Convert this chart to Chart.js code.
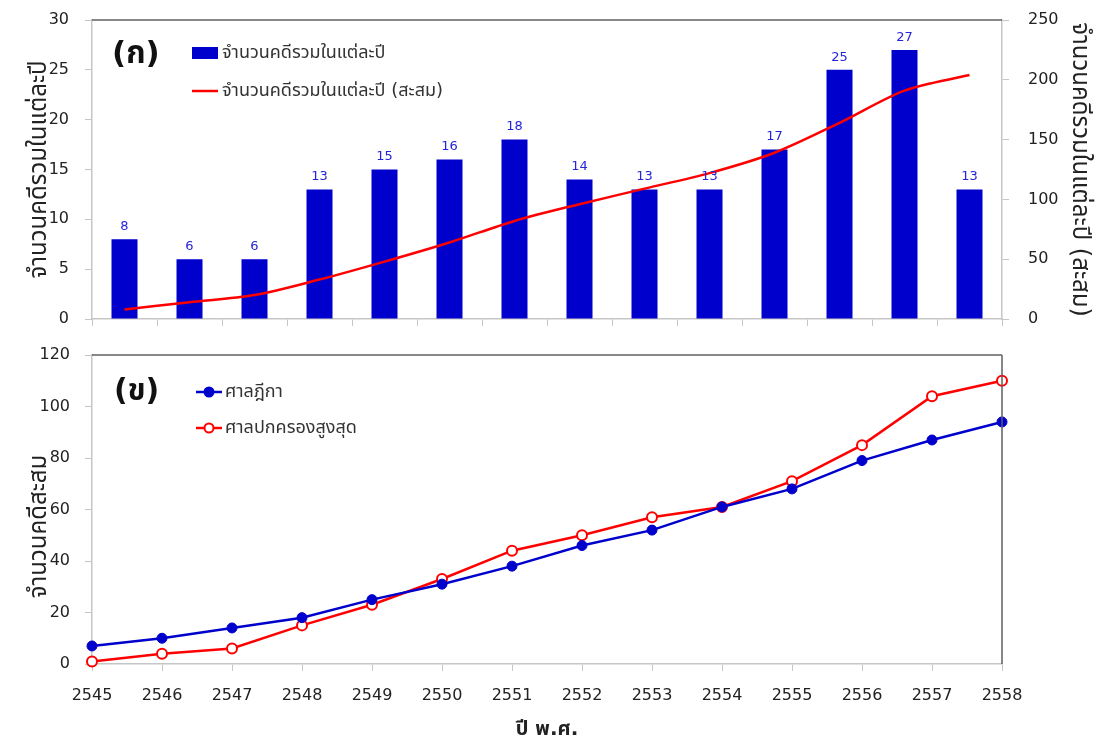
<!DOCTYPE html>
<html><head><meta charset="utf-8">
<script src="https://cdn.jsdelivr.net/npm/chart.js@4.4.1/dist/chart.umd.min.js"></script>
<style>
html,body{margin:0;padding:0;background:#fff;}
#w{position:relative;width:1098px;height:742px;overflow:hidden;}
#c1{position:absolute;left:0;top:0;}
#c2{position:absolute;left:0;top:335px;}
</style></head><body>
<div id="w"><canvas id="c1" width="1098" height="335"></canvas><canvas id="c2" width="1098" height="407"></canvas></div>
<script>
const years = ['2545','2546','2547','2548','2549','2550','2551','2552','2553','2554','2555','2556','2557','2558'];
const casesPerYear = [8,6,6,13,15,16,18,14,13,13,17,25,27,13];
const casesCumulative = [8,14,20,33,48,64,82,96,109,122,139,164,191,204];
const supremeCourt = [7,10,14,18,25,31,38,46,52,61,68,79,87,94];
const adminCourt = [1,4,6,15,23,33,44,50,57,61,71,85,104,110];
const topLeftTicks = {min:0, max:30, step:5};
const topRightTicks = {min:0, max:250, step:50};
const bottomTicks = {min:0, max:120, step:20};

const FONT = "'DejaVu Sans', 'Noto Sans Thai', 'Noto Sans', sans-serif";
const TXT = '#222';
const AX = '#c6c6c6';
const FRAME = '#606060';

const fixV = (w) => (s) => { s.width = w; s.paddingTop = 0; s.paddingBottom = 0; };
const fixH = (h) => (s) => { s.height = h; s.paddingLeft = 0; s.paddingRight = 0; };

const framePlugin = (sides) => ({
  id:'frame',
  afterDraw(chart){
    const {ctx, chartArea:a} = chart;
    ctx.save();
    ctx.strokeStyle = FRAME; ctx.lineWidth = 1.5;
    ctx.beginPath();
    ctx.moveTo(a.left, a.top); ctx.lineTo(a.right, a.top);
    if (sides.right){ ctx.moveTo(a.right, a.top); ctx.lineTo(a.right, a.bottom); }
    ctx.stroke();
    ctx.restore();
  }
});

const topDecor = {
  id:'topDecor',
  afterDatasetsDraw(chart){
    const {ctx, chartArea:a} = chart;
    ctx.save();
    const meta = chart.getDatasetMeta(1);
    ctx.font = "13px " + FONT; ctx.fillStyle = '#2424d8';
    ctx.textAlign = 'center'; ctx.textBaseline = 'bottom';
    meta.data.forEach((bar,i)=>{ ctx.fillText(String(casesPerYear[i]), bar.x, bar.y - 6); });
    ctx.fillStyle = '#111'; ctx.font = "bold 31px " + FONT; ctx.textAlign='left'; ctx.textBaseline='middle';
    ctx.fillText('(ก)', a.left + 20, a.top + 35);
    ctx.fillStyle = '#0000cc';
    ctx.fillRect(a.left + 100, a.top + 27, 26, 12);
    ctx.strokeStyle = '#ff0000'; ctx.lineWidth = 2.5;
    ctx.beginPath(); ctx.moveTo(a.left + 100, a.top + 71); ctx.lineTo(a.left + 126, a.top + 71); ctx.stroke();
    ctx.fillStyle = '#333'; ctx.font = "18px " + FONT;
    ctx.fillText(chart.data.datasets[1].label, a.left + 130, a.top + 33);
    ctx.fillText(chart.data.datasets[0].label, a.left + 130, a.top + 71);
    ctx.restore();
  }
};

const bottomTitle = 'จำนวนคดีสะสม';
const bottomDecor = {
  id:'bottomDecor',
  afterDatasetsDraw(chart){
    const {ctx, chartArea:a} = chart;
    ctx.save();
    ctx.fillStyle = '#111'; ctx.font = "bold 30px " + FONT; ctx.textAlign='left'; ctx.textBaseline='middle';
    ctx.fillText('(ข)', a.left + 22, a.top + 37);
    const items = [
      {y:a.top+37, c:'#0000cc', fill:'#0000cc', t:chart.data.datasets[0].label},
      {y:a.top+73, c:'#ff0000', fill:'#ffffff', t:chart.data.datasets[1].label}
    ];
    items.forEach(it=>{
      const x0 = a.left + 104, x1 = a.left + 130;
      ctx.strokeStyle = it.c; ctx.lineWidth = 2.5;
      ctx.beginPath(); ctx.moveTo(x0, it.y); ctx.lineTo(x1, it.y); ctx.stroke();
      ctx.beginPath(); ctx.arc((x0+x1)/2, it.y, 4.5, 0, Math.PI*2);
      ctx.fillStyle = it.fill; ctx.fill(); ctx.lineWidth = 2; ctx.stroke();
      ctx.fillStyle = '#333'; ctx.font = "18px " + FONT;
      ctx.fillText(it.t, x1 + 3, it.y);
    });
    ctx.save();
    ctx.translate(40, (a.top + a.bottom) / 2 + 17);
    ctx.rotate(-Math.PI / 2);
    ctx.fillStyle = TXT; ctx.font = "24px " + FONT; ctx.textAlign = 'center'; ctx.textBaseline = 'middle';
    ctx.fillText(bottomTitle, 0, 0);
    ctx.restore();
    ctx.restore();
  }
};

const tickFont = {family: FONT, size: 16};
const titleFont = {family: FONT, size: 24};

new Chart(document.getElementById('c1'), {
  type:'bar',
  data:{
    labels: years,
    datasets:[
      {type:'line', label:'จำนวนคดีรวมในแต่ละปี (สะสม)', data:casesCumulative, yAxisID:'y2',
       borderColor:'#ff0000', borderWidth:2.5, pointRadius:0, tension:0.3, order:0, clip:false},
      {type:'bar', label:'จำนวนคดีรวมในแต่ละปี', data:casesPerYear, yAxisID:'y',
       backgroundColor:'#0000cc', borderColor:'#0000cc', barPercentage:0.4, categoryPercentage:1.0, order:1}
    ]
  },
  options:{
    responsive:false, animation:false, maintainAspectRatio:false,
    layout:{padding:{top:20, bottom:0, left:0, right:0}},
    plugins:{legend:{display:false}, tooltip:{enabled:false}},
    scales:{
      x:{offset:true, ticks:{display:false},
         grid:{display:true, drawOnChartArea:false, drawTicks:true, tickLength:7, color:AX, offset:true},
         border:{display:true, color:AX, width:1.5},
         afterFit: fixH(16)},
      y:{position:'left', min:topLeftTicks.min, max:topLeftTicks.max,
         ticks:{stepSize:topLeftTicks.step, font:tickFont, color:TXT, padding:16},
         grid:{drawOnChartArea:false, tickLength:7, color:AX},
         border:{color:AX, width:1.5},
         title:{display:true, text:'จำนวนคดีรวมในแต่ละปี', font:titleFont, color:TXT, padding:{top:25,bottom:0}},
         afterFit: fixV(92)},
      y2:{position:'right', min:topRightTicks.min, max:topRightTicks.max,
         ticks:{stepSize:topRightTicks.step, font:tickFont, color:TXT, padding:19},
         grid:{drawOnChartArea:false, tickLength:7, color:AX},
         border:{color:AX, width:1.5},
         title:{display:true, text:'จำนวนคดีรวมในแต่ละปี (สะสม)', font:titleFont, color:TXT, padding:{top:4,bottom:0}},
         afterFit: fixV(96)}
    }
  },
  plugins:[framePlugin({right:false}), topDecor]
});

new Chart(document.getElementById('c2'), {
  type:'line',
  data:{
    labels: years,
    datasets:[
      {label:'ศาลฎีกา', data:supremeCourt, borderColor:'#0000cc', backgroundColor:'#0000cc',
       borderWidth:2.5, pointRadius:5, pointBackgroundColor:'#0000cc', pointBorderColor:'#0000cc', pointBorderWidth:1, tension:0, clip:false},
      {label:'ศาลปกครองสูงสุด', data:adminCourt, borderColor:'#ff0000', backgroundColor:'#ffffff',
       borderWidth:2.5, pointRadius:5, pointBackgroundColor:'#ffffff', pointBorderColor:'#ff0000', pointBorderWidth:2, tension:0, clip:false}
    ]
  },
  options:{
    responsive:false, animation:false, maintainAspectRatio:false,
    layout:{padding:{top:20, bottom:0, left:0, right:96}},
    plugins:{legend:{display:false}, tooltip:{enabled:false}},
    scales:{
      x:{offset:false,
         ticks:{font:tickFont, color:TXT, padding:15, maxRotation:0, autoSkip:false},
         grid:{display:true, drawOnChartArea:false, drawTicks:true, tickLength:7, color:AX, offset:false},
         border:{display:true, color:AX, width:1.5},
         title:{display:true, text:'ปี พ.ศ.', font:{family:FONT, size:20, weight:'bold'}, color:TXT, padding:{top:1,bottom:0}},
         afterFit: fixH(78)},
      y:{min:bottomTicks.min, max:bottomTicks.max,
         ticks:{stepSize:bottomTicks.step, font:tickFont, color:TXT, padding:15},
         grid:{drawOnChartArea:false, tickLength:7, color:AX},
         border:{color:AX, width:1.5},
         afterFit: fixV(92)}
    }
  },
  plugins:[framePlugin({right:true}), bottomDecor]
});
</script>
</body></html>
